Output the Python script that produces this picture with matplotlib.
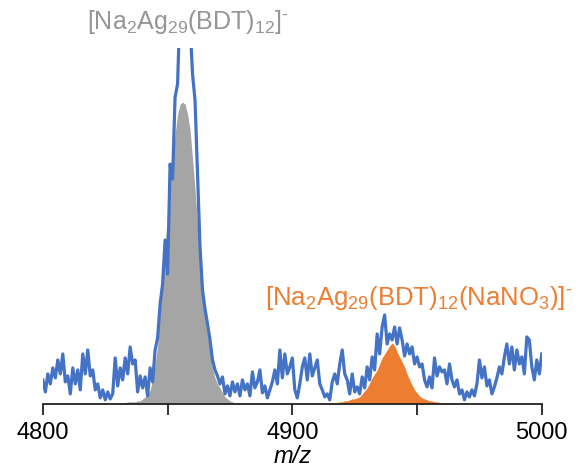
import numpy as np
import matplotlib
matplotlib.use('Agg')
import matplotlib.pyplot as plt

plt.rcParams['font.family'] = 'Liberation Sans'
plt.rcParams['mathtext.fontset'] = 'custom'
plt.rcParams['mathtext.rm'] = 'Liberation Sans'
plt.rcParams['mathtext.it'] = 'Liberation Sans:italic'

# experimental spectrum, m/z 4800 - 5000, 1 Da steps
exp_mz = np.arange(4800, 5001)
exp_int = [24, 12, 30, 20, 36, 26, 44, 30, 50, 22,
           28, 10, 36, 20, 34, 14, 50, 30, 54, 28,
           34, 14, 20, 6, 14, 4, 12, 5, 10, 46,
           18, 36, 24, 46, 30, 57, 40, 44, 12, 28,
           16, 27, 8, 36, 22, 54, 66, 100, 120, 164,
           130, 240, 225, 307, 320, 400, 420, 410, 400, 380,
           330, 304, 230, 157, 114, 95, 80, 64, 44, 34,
           28, 20, 27, 10, 18, 8, 22, 12, 20, 8,
           24, 14, 20, 8, 32, 16, 22, 34, 11, 18,
           6, 14, 22, 34, 20, 54, 26, 50, 30, 37,
           46, 14, 6, 20, 37, 46, 24, 50, 28, 36,
           44, 20, 14, 7, 10, 4, 22, 30, 20, 40,
           54, 30, 24, 10, 30, 12, 17, 10, 27, 16,
           37, 24, 47, 34, 70, 50, 77, 89, 60, 70,
           64, 77, 60, 76, 64, 48, 60, 50, 57, 40,
           47, 37, 40, 24, 17, 27, 16, 46, 28, 37,
           32, 34, 20, 40, 24, 17, 24, 10, 14, 4,
           12, 7, 14, 8, 20, 44, 26, 37, 18, 24,
           10, 17, 26, 37, 30, 47, 60, 40, 57, 34,
           54, 40, 47, 30, 67, 64, 37, 24, 44, 30,
           50]

# simulated isotope pattern of [Na2Ag29(BDT)12]-
sim1_mz = np.arange(4831, 4880)
sim1_int = [1, 1, 1, 2, 2, 2, 2, 3, 3, 5,
            7, 9, 14, 25, 40, 58, 95, 130, 160, 190,
            217, 245, 270, 290, 300, 302, 300, 290, 275, 245,
            215, 180, 145, 108, 85, 68, 55, 36, 26, 20,
            16, 11, 7, 5, 3, 2, 1, 1, 0]

# simulated isotope pattern of [Na2Ag29(BDT)12(NaNO3)]-
sim2_mz = np.arange(4915, 4966)
sim2_int = [0.5, 1, 1, 1.5, 2, 2, 3, 3, 4, 5,
            5, 6, 7, 10, 13, 16, 21, 26, 30, 34,
            40, 46, 50, 54, 58, 61, 58, 52, 47, 42,
            37, 30, 24, 19, 14, 11, 8, 6, 5, 4,
            3, 3, 2, 2, 1.5, 1, 1, 1, 0.5, 0.5,
            0]

fig = plt.figure(figsize=(5.87, 4.68), dpi=100)
ax = fig.add_axes([0.073, 0.137, 0.850, 0.760])

ax.fill_between(sim1_mz, 0, sim1_int, color='#A5A5A5', lw=0, zorder=1)
ax.plot(exp_mz, exp_int, color='#4472C4', lw=2.3, zorder=2)
ax.fill_between(sim2_mz, 0, sim2_int, color='#ED7D31', lw=0, zorder=3)

ax.set_xlim(4800, 5000)
ax.set_ylim(0, 356)
for s in ['left', 'right', 'top']:
    ax.spines[s].set_visible(False)
ax.spines['bottom'].set_linewidth(1.3)
ax.spines['bottom'].set_color('#222222')
ax.spines['bottom'].set_zorder(4)
ax.set_yticks([])
ax.set_xticks([4800, 4900, 5000])
ax.set_xticks([4850, 4950], minor=True)
ax.tick_params(axis='x', which='both', direction='out', length=8, width=1.3,
               color='#222222', labelsize=17, pad=5)
ax.set_xlabel('m/z', fontsize=17, style='italic', labelpad=1)

fig.text(0.32, 0.953, '[Na$_2$Ag$_{29}$(BDT)$_{12}$]$^{\u2010}$', color='#959595',
         fontsize=18, ha='center', va='center')
fig.text(0.452, 0.363, '[Na$_2$Ag$_{29}$(BDT)$_{12}$(NaNO$_3$)]$^{\u2010}$', color='#ED7D31',
         fontsize=18.5, ha='left', va='center')

fig.savefig('out.png', dpi=100)
